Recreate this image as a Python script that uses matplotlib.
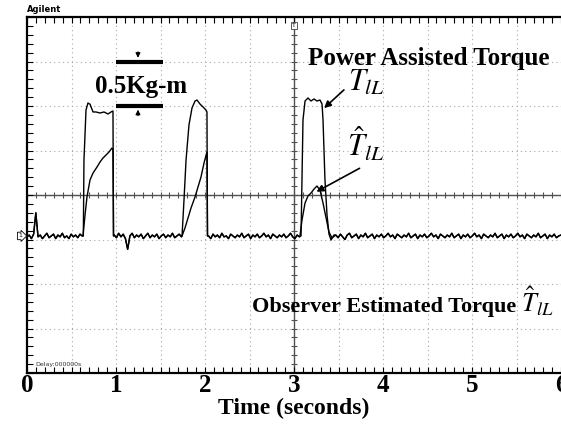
import numpy as np
import matplotlib.pyplot as plt
from matplotlib.transforms import blended_transform_factory

plt.rcParams['font.family'] = ['Liberation Serif', 'DejaVu Serif']
plt.rcParams['mathtext.fontset'] = 'stix'

# baseline noise between pulses (Kg-m)
base0 = [-0.47, -0.45, -0.49, -0.44, -0.20, -0.47, -0.45, -0.49, -0.46, -0.43,
         -0.48, -0.46, -0.44, -0.49, -0.45, -0.47, -0.43, -0.48, -0.46, -0.49,
         -0.44, -0.47, -0.45, -0.48, -0.44, -0.46]
base1 = [-0.45, -0.48, -0.43, -0.47, -0.44, -0.49, -0.61, -0.46, -0.43, -0.48,
         -0.45, -0.47, -0.44, -0.49, -0.46, -0.43, -0.48, -0.45, -0.47, -0.44,
         -0.49, -0.46, -0.44, -0.48, -0.45, -0.47, -0.43, -0.48, -0.46, -0.44, -0.47]
base2 = [-0.46, -0.49, -0.44, -0.47, -0.45, -0.48, -0.43, -0.47, -0.46, -0.49,
         -0.44, -0.46, -0.48, -0.45, -0.47, -0.43, -0.48, -0.46, -0.44, -0.49,
         -0.45, -0.47, -0.44, -0.48, -0.46, -0.43, -0.47, -0.45, -0.49, -0.44,
         -0.46, -0.48, -0.45, -0.47, -0.44, -0.48, -0.46, -0.43, -0.47, -0.49,
         -0.45, -0.47]
base3 = [-0.45, -0.48, -0.44, -0.47, -0.50, -0.45, -0.43, -0.48, -0.46, -0.44,
         -0.49, -0.45, -0.47, -0.43, -0.48, -0.46, -0.44, -0.49, -0.45, -0.47,
         -0.44, -0.48, -0.46, -0.43, -0.47, -0.45, -0.49, -0.44, -0.46, -0.48,
         -0.45, -0.47, -0.43, -0.48, -0.46, -0.44, -0.49, -0.45, -0.47, -0.44,
         -0.48, -0.46, -0.43, -0.47, -0.45, -0.49, -0.44, -0.46, -0.48, -0.45,
         -0.47, -0.43, -0.48, -0.46, -0.44, -0.49, -0.45, -0.47, -0.44, -0.48,
         -0.46, -0.43, -0.47, -0.45, -0.49, -0.44, -0.46, -0.48, -0.45, -0.47,
         -0.43, -0.48, -0.46, -0.44, -0.49, -0.45, -0.47, -0.44, -0.48, -0.46,
         -0.43, -0.47, -0.45, -0.49, -0.44, -0.46, -0.48, -0.45, -0.47, -0.43,
         -0.48, -0.46, -0.44, -0.49, -0.45, -0.47, -0.44, -0.48, -0.46, -0.45]
base_span = [(0.0, 0.62), (0.98, 1.735), (2.04, 3.06), (3.47, 6.0)]

# power assisted torque T_lL pulses
til_t1 = [0.633, 0.640, 0.663, 0.685, 0.708, 0.742, 0.775, 0.820, 0.865, 0.910, 0.944, 0.966, 0.972]
til_v1 = [-0.46, 0.39, 0.955, 1.034, 1.02, 0.933, 0.933, 0.921, 0.933, 0.91, 0.933, 0.944, -0.46]
til_t2 = [1.742, 1.764, 1.787, 1.820, 1.854, 1.888, 1.910, 1.944, 1.978, 2.011, 2.022, 2.028]
til_v2 = [-0.46, -0.056, 0.393, 0.787, 0.978, 1.056, 1.067, 1.022, 0.989, 0.955, 0.933, -0.46]
til_t3 = [3.079, 3.090, 3.101, 3.124, 3.157, 3.191, 3.225, 3.258, 3.292, 3.315, 3.326, 3.348, 3.371, 3.393, 3.416, 3.449]
til_v3 = [-0.46, 0.169, 0.843, 1.056, 1.09, 1.056, 1.079, 1.056, 1.067, 1.022, 0.843, 0.169, -0.225, -0.438, -0.506, -0.449]

# observer estimated torque pulses
hat_t1 = [0.629, 0.652, 0.674, 0.708, 0.742, 0.787, 0.820, 0.854, 0.888, 0.921, 0.955, 0.966, 0.972]
hat_v1 = [-0.46, -0.225, -0.022, 0.169, 0.247, 0.315, 0.37, 0.416, 0.449, 0.483, 0.528, 0.506, -0.46]
hat_t2 = [1.742, 1.775, 1.809, 1.843, 1.888, 1.921, 1.955, 1.989, 2.022, 2.028]
hat_v2 = [-0.46, -0.371, -0.258, -0.146, -0.022, 0.09, 0.202, 0.36, 0.483, -0.46]
hat_t3 = [3.067, 3.090, 3.124, 3.157, 3.191, 3.225, 3.258, 3.292, 3.326, 3.360, 3.393, 3.427]
hat_v3 = [-0.46, -0.281, -0.09, -0.011, 0.022, 0.067, 0.101, 0.056, -0.09, -0.258, -0.416, -0.483]

x_ticks = [0, 1, 2, 3, 4, 5, 6]
x_tick_labels = ['0', '1', '2', '3', '4', '5', '6']


def build(pulses):
    bases = [base0, base1, base2, base3]
    tt, vv = [], []
    for i, b in enumerate(bases):
        tt += list(np.linspace(base_span[i][0], base_span[i][1], len(b)))
        vv += b
        if i < len(pulses):
            tt += pulses[i][0]
            vv += pulses[i][1]
    return tt, vv


til_t, til_v = build([(til_t1, til_v1), (til_t2, til_v2), (til_t3, til_v3)])
hat_t, hat_v = build([(hat_t1, hat_v1), (hat_t2, hat_v2), (hat_t3, hat_v3)])

fig = plt.figure(figsize=(5.61, 4.28), dpi=100)
ax = fig.add_axes([27/561, 1 - 373/428, 534/561, 356/428])
ax.set_xlim(0, 6)
ax.set_ylim(-2, 2)

# scope graticule
for xv in np.arange(0.5, 6, 0.5):
    if xv != 3:
        ax.axvline(xv, color='#a8a8a8', ls=(0, (1, 3)), lw=0.8, zorder=1)
for yv in np.arange(-1.5, 2, 0.5):
    if yv != 0:
        ax.axhline(yv, color='#a8a8a8', ls=(0, (1, 3)), lw=0.8, zorder=1)
ax.axhline(0, color='#505050', lw=1.0, zorder=1)
ax.axvline(3, color='#505050', lw=1.0, zorder=1)
mx = np.arange(0, 6.01, 0.1)
my = np.arange(-2, 2.01, 0.1)
ax.plot(mx, np.zeros_like(mx), ls='', marker='|', ms=4, color='#505050', mew=0.8, zorder=1)
ax.plot(np.full_like(my, 3), my, ls='', marker='_', ms=4, color='#505050', mew=0.8, zorder=1)

ax.plot(til_t, til_v, color='black', lw=1.0, zorder=3)
ax.plot(hat_t, hat_v, color='black', lw=1.0, zorder=3)

ax.set_xticks(x_ticks)
ax.set_xticklabels(x_tick_labels, fontsize=18, fontweight='bold')
ax.set_xticks(mx, minor=True)
ax.set_yticks([])
ax.set_yticks(my, minor=True)
ax.tick_params(which='both', direction='in', top=True, left=True, right=False,
               length=4, width=0.8, pad=1)
for s in ['top', 'bottom', 'left']:
    ax.spines[s].set_linewidth(1.6)
ax.spines['right'].set_visible(False)
ax.set_xlabel('Time (seconds)', fontsize=17, fontweight='bold', labelpad=0)

# 0.5 Kg-m scale marker
ax.plot([1.0, 1.53], [1.5, 1.5], color='black', lw=3, solid_capstyle='butt')
ax.plot([1.0, 1.53], [1.0, 1.0], color='black', lw=3, solid_capstyle='butt')
ax.annotate('', xy=(1.247, 1.51), xytext=(1.247, 1.64),
            arrowprops=dict(arrowstyle='-|>', color='black', lw=0.8, mutation_scale=7))
ax.annotate('', xy=(1.247, 0.99), xytext=(1.247, 0.86),
            arrowprops=dict(arrowstyle='-|>', color='black', lw=0.8, mutation_scale=7))
ax.text(1.287, 1.146, '0.5Kg-m', fontsize=18, fontweight='bold', ha='center', va='baseline')

ax.text(4.517, 1.461, 'Power Assisted Torque', fontsize=18, fontweight='bold',
        ha='center', va='baseline')
ax.text(3.81, 1.26, r'$T_{lL}$', fontsize=22, ha='center', va='center')
ax.annotate('', xy=(3.315, 0.955), xytext=(3.584, 1.202),
            arrowprops=dict(arrowstyle='-|>', color='black', lw=1.2, mutation_scale=10))
ax.text(3.81, 0.56, r'$\hat{T}_{lL}$', fontsize=22, ha='center', va='center')
ax.annotate('', xy=(3.225, 0.022), xytext=(3.764, 0.315),
            arrowprops=dict(arrowstyle='-|>', color='black', lw=1.2, mutation_scale=10))
ax.text(2.528, -1.315, 'Observer Estimated Torque', fontsize=16,
        fontweight='bold', ha='left', va='baseline')
ax.text(5.55, -1.315, r'$\hat{T}_{lL}$', fontsize=19, ha='left', va='baseline')

# scope markers
trans = blended_transform_factory(ax.transAxes, ax.transData)
ax.text(-0.012, -0.46, '1', transform=trans, fontsize=4.5, family='DejaVu Sans',
        ha='center', va='center', clip_on=False,
        bbox=dict(boxstyle='rarrow,pad=0.2', fc='white', ec='black', lw=0.6))
ax.text(3, 1.93, 'T', fontsize=4.5, family='DejaVu Sans', ha='center', va='top',
        bbox=dict(boxstyle='square,pad=0.2', fc='white', ec='#404040', lw=0.6))
ax.text(0.09, -1.91, 'Delay:000000s', fontsize=4.5, family='DejaVu Sans',
        color='#303030', va='center')
fig.text(27/561, 1 - 10/428, 'Agilent', fontsize=6, family='DejaVu Sans',
         fontweight='bold', va='center')

fig.savefig('out.png', dpi=100)
